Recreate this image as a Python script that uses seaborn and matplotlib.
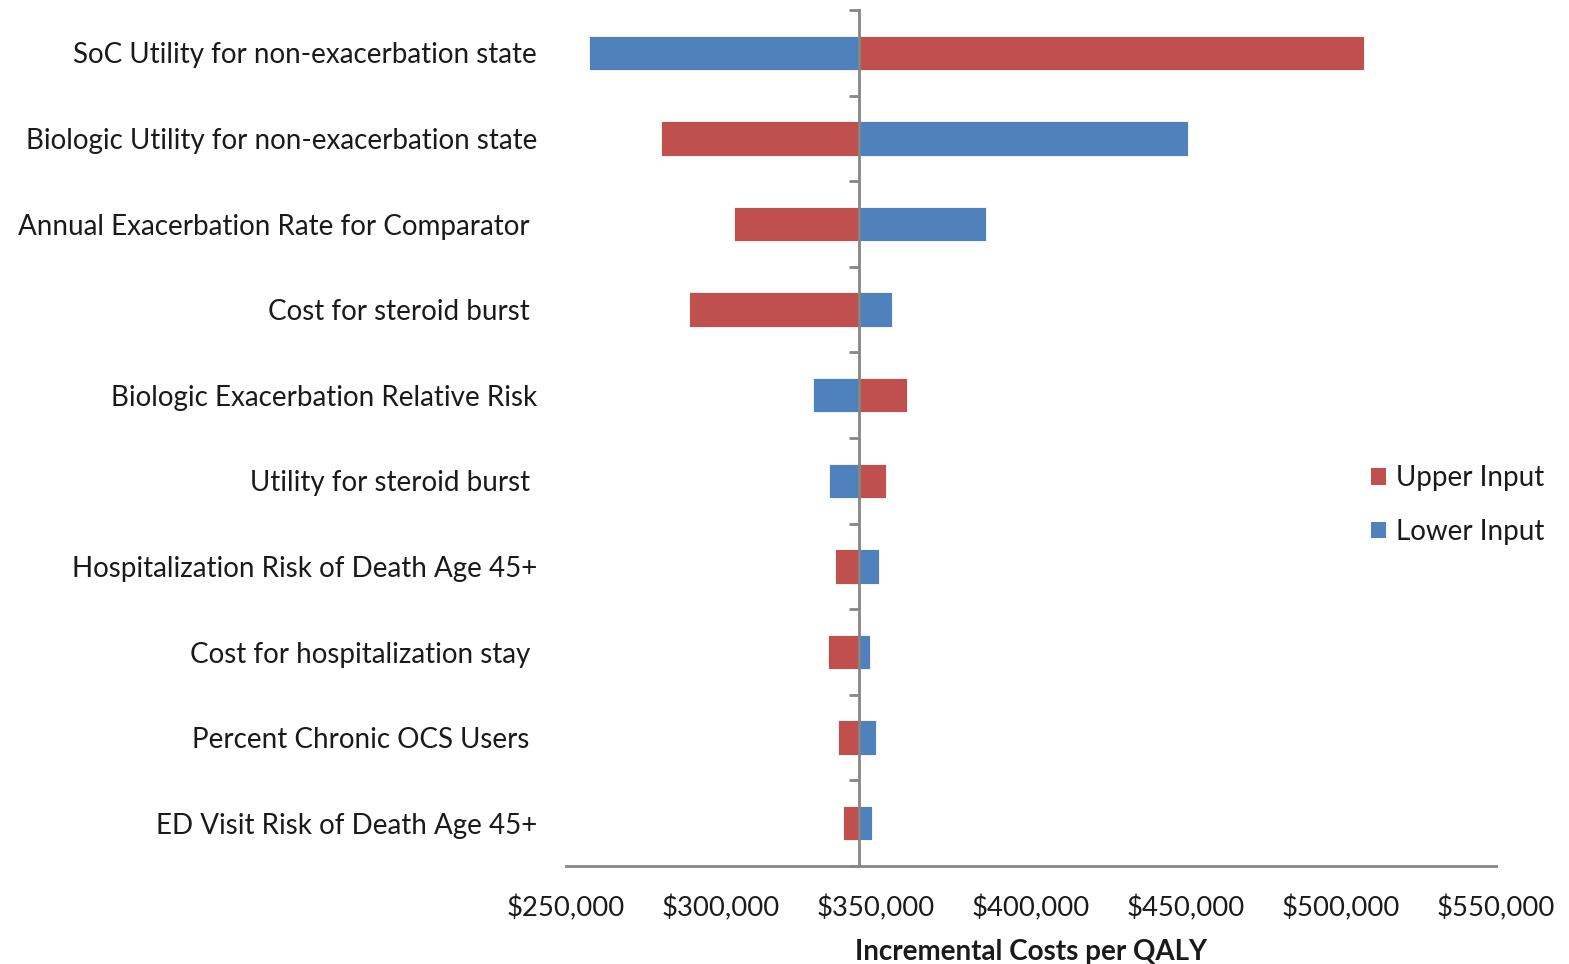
import matplotlib
matplotlib.use("Agg")
import matplotlib.pyplot as plt
import matplotlib.ticker as mticker
from matplotlib.patches import Patch
import seaborn as sns
import pandas as pd

# ---- data ----
categories = [
    "SoC Utility for non-exacerbation state",
    "Biologic Utility for non-exacerbation state",
    "Annual Exacerbation Rate for Comparator ",
    "Cost for steroid burst ",
    "Biologic Exacerbation Relative Risk",
    "Utility for steroid burst ",
    "Hospitalization Risk of Death Age 45+",
    "Cost for hospitalization stay ",
    "Percent Chronic OCS Users ",
    "ED Visit Risk of Death Age 45+",
]
base_value = 344500
upper_input = [507400, 280600, 304200, 289700, 360000, 353200, 336800, 334500, 337700, 339300]
lower_input = [257400, 450600, 385500, 355200, 329700, 334800, 351000, 348100, 350000, 348600]
series_names = ["Upper Input", "Lower Input"]
x_ticks = [250000, 300000, 350000, 400000, 450000, 500000, 550000]
x_label = "Incremental Costs per QALY"

df = pd.DataFrame({
    "category": categories * 2,
    "series": [series_names[0]] * len(categories) + [series_names[1]] * len(categories),
    "value": upper_input + lower_input,
})
df["delta"] = df["value"] - base_value

# ---- style ----
sns.set_theme(style="white")
plt.rcParams["font.family"] = ["Lato", "DejaVu Sans"]
text_color = "#1a1a1a"
axis_color = "#868686"
palette = {"Upper Input": "#C0504D", "Lower Input": "#4F81BD"}

fig = plt.figure(figsize=(15.69, 9.64), dpi=100)
ax = fig.add_axes([566 / 1569, 1 - 866 / 964, (1496 - 566) / 1569, (866 - 10) / 964])

sns.barplot(
    data=df, y="category", x="delta", hue="series", order=categories,
    hue_order=series_names, palette=palette, saturation=1, dodge=False,
    width=0.4, errorbar=None, orient="h", left=base_value,
    edgecolor="white", linewidth=0.6, ax=ax, legend=False,
)

ax.set_xlim(x_ticks[0], x_ticks[-1])
ax.set_ylim(len(categories) - 0.5, -0.5)
ax.xaxis.set_major_locator(mticker.FixedLocator(x_ticks))
ax.xaxis.set_major_formatter(mticker.FuncFormatter(lambda v, p: f"${v:,.0f}"))

for s in ["top", "right"]:
    ax.spines[s].set_visible(False)
ax.spines["bottom"].set_color(axis_color)
ax.spines["bottom"].set_linewidth(2)
ax.spines["left"].set_position(("data", base_value))
ax.spines["left"].set_color(axis_color)
ax.spines["left"].set_linewidth(2)
ax.spines["left"].set_zorder(5)

ax.tick_params(axis="x", which="major", direction="out", length=8, width=2,
               color=axis_color, labelsize=19.7, labelcolor=text_color, pad=13)
ax.yaxis.set_minor_locator(mticker.FixedLocator([i - 0.5 for i in range(len(categories) + 1)]))
ax.tick_params(axis="y", which="major", length=0, labelsize=20,
               labelcolor=text_color, pad=(859 - 537) * 0.72)
ax.tick_params(axis="y", which="minor", direction="out", length=7, width=2,
               color=axis_color, left=True)

ax.set_ylabel("")
ax.set_xlabel(x_label, fontsize=20, fontweight="bold", color=text_color, labelpad=12.5)

handles = [Patch(facecolor=palette[n], edgecolor="none", label=n) for n in series_names]
leg = ax.legend(
    handles=handles,
    loc="center left", bbox_to_anchor=(1346 / 1569, 1 - 505 / 964),
    bbox_transform=fig.transFigure, frameon=False, fontsize=20,
    handlelength=0.55, handleheight=0.55, handletextpad=0.35, labelspacing=1.0,
)
for t in leg.get_texts():
    t.set_color(text_color)

fig.savefig("out.png", dpi=100)
